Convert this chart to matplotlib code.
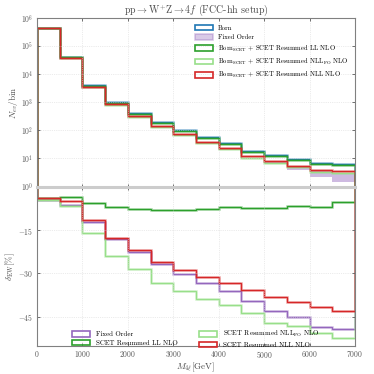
import numpy as np
import matplotlib.pyplot as plt
from matplotlib.patches import Patch

plt.rcParams['font.family'] = 'serif'
plt.rcParams['font.serif'] = ['cmr10']
plt.rcParams['mathtext.fontset'] = 'cm'
plt.rcParams['axes.formatter.use_mathtext'] = True

# binning in M_4l [GeV]
edges = np.arange(0, 7500, 500)

# events per bin (Born)
born = np.array([4.4e5, 4.05e4, 3.95e3, 1000, 405, 188, 100, 56, 34.6, 18.5, 12.5, 9.0, 6.7, 6.0])
# fixed order uncertainty band, lower edge
fo_band_lo = np.array([4.0e5, 3.6e4, 3.3e3, 780, 295, 128, 64, 34, 21, 11, 6.2, 3.9, 2.1, 1.36])

# relative EW corrections [%]
d_fo = np.array([-4.6, -6.1, -12.0, -18.1, -22.6, -26.6, -30.1, -33.3, -36.2, -39.7, -42.9, -45.0, -48.5, -49.3])
d_ll = np.array([-3.8, -3.3, -5.7, -7.0, -7.6, -7.9, -8.0, -7.6, -7.0, -7.3, -7.3, -6.7, -6.9, -5.3])
d_nllfo = np.array([-4.4, -6.6, -16.0, -24.0, -28.6, -33.3, -36.0, -38.9, -41.1, -43.6, -47.3, -48.2, -50.8, -52.3])
d_nll = np.array([-3.9, -4.9, -11.4, -17.8, -21.9, -25.9, -28.9, -31.3, -33.3, -35.6, -38.3, -40.0, -41.8, -43.0])

c_born = '#1f77b4'
c_fo = '#9467bd'
c_ll = '#2ca02c'
c_nllfo = '#98df8a'
c_nll = '#d62728'

fig = plt.figure(figsize=(3.74, 3.74), dpi=100)
ax1 = fig.add_axes([0.099, 0.5, 0.85, 0.452])
ax2 = fig.add_axes([0.099, 0.075, 0.85, 0.425], sharex=ax1)


def step(ax, vals, color, lw=1.0):
    ax.stairs(vals, edges, color=color, lw=2.0, alpha=0.3)
    ax.stairs(vals, edges, color=color, lw=lw)


# top panel
ax1.stairs(born * (1 + d_fo / 100), edges, baseline=fo_band_lo, fill=True, color=c_fo, alpha=0.45, lw=0)
step(ax1, born, c_born)
step(ax1, born * (1 + d_nllfo / 100), c_nllfo)
step(ax1, born * (1 + d_ll / 100), c_ll)
step(ax1, born * (1 + d_nll / 100), c_nll)
ax1.set_yscale('log')
ax1.set_ylim(0.93, 1e6)
ax1.minorticks_off()
ax1.set_ylabel(r'$N_{ev}/\mathrm{bin}$', fontsize=6.5, color='0.3', labelpad=1)
ax1.set_title(r'$\mathrm{pp} \rightarrow \mathrm{W}^{+}\mathrm{Z} \rightarrow 4f$ (FCC-hh setup)', fontsize=7.2, color='0.3', pad=4)
plt.setp(ax1.get_xticklabels(), visible=False)

h_top = [Patch(facecolor='none', edgecolor=c_born, lw=1.2),
         Patch(facecolor=c_fo, alpha=0.35, edgecolor=c_fo, lw=1.2),
         Patch(facecolor='none', edgecolor=c_ll, lw=1.2),
         Patch(facecolor='none', edgecolor=c_nllfo, lw=1.2),
         Patch(facecolor='none', edgecolor=c_nll, lw=1.2)]
l_top = ['Born', 'Fixed Order',
         r'Born$_{\mathrm{SCET}}$ + SCET Resummed LL NLO',
         r'Born$_{\mathrm{SCET}}$ + SCET Resummed NLL$_{\mathrm{FO}}$ NLO',
         r'Born$_{\mathrm{SCET}}$ + SCET Resummed NLL NLO']
ax1.legend(h_top, l_top, loc='upper right', frameon=False, fontsize=4.8,
           handlelength=2.6, handleheight=0.9, labelspacing=0.5, borderaxespad=0.6,
           handletextpad=0.8)

# ratio panel
step(ax2, d_fo, c_fo)
step(ax2, d_ll, c_ll)
step(ax2, d_nllfo, c_nllfo)
step(ax2, d_nll, c_nll)
ax2.axhline(0, color='0.8', lw=2.2, clip_on=False, zorder=5)
ax2.set_ylim(-55.2, 0)
ax2.set_yticks([-15, -30, -45])
ax2.set_xlim(0, 7000)
ax2.set_xticks(np.arange(0, 7001, 1000))
ax2.set_ylabel(r'$\delta_{\mathrm{EW}}[\%]$', fontsize=6.5, color='0.3', labelpad=1)
ax2.set_xlabel(r'$M_{4\ell}[\mathrm{GeV}]$', fontsize=6.5, color='0.3', labelpad=0)

h_bot = [Patch(facecolor='none', edgecolor=c, lw=1.2) for c in [c_fo, c_ll, c_nllfo, c_nll]]
l_bot = ['Fixed Order', 'SCET Resummed LL NLO',
         r'SCET Resummed NLL$_{\mathrm{FO}}$ NLO', 'SCET Resummed NLL NLO']
ax2.legend(h_bot, l_bot, loc='lower center', bbox_to_anchor=(0.5, -0.03), ncol=2,
           frameon=False, fontsize=5.0, handlelength=2.6, handleheight=0.8,
           labelspacing=0.35, columnspacing=3.0, borderaxespad=0.0, handletextpad=0.9)

for ax in (ax1, ax2):
    ax.grid(True, color='0.85', lw=0.5, ls=':')
    ax.tick_params(direction='in', right=True, top=True, labelsize=5.5,
                   colors='0.35', length=2.5, width=0.6, pad=2.5)
    for s in ax.spines.values():
        s.set_color('0.5')
        s.set_linewidth(0.8)

fig.savefig('out.png', dpi=100)
